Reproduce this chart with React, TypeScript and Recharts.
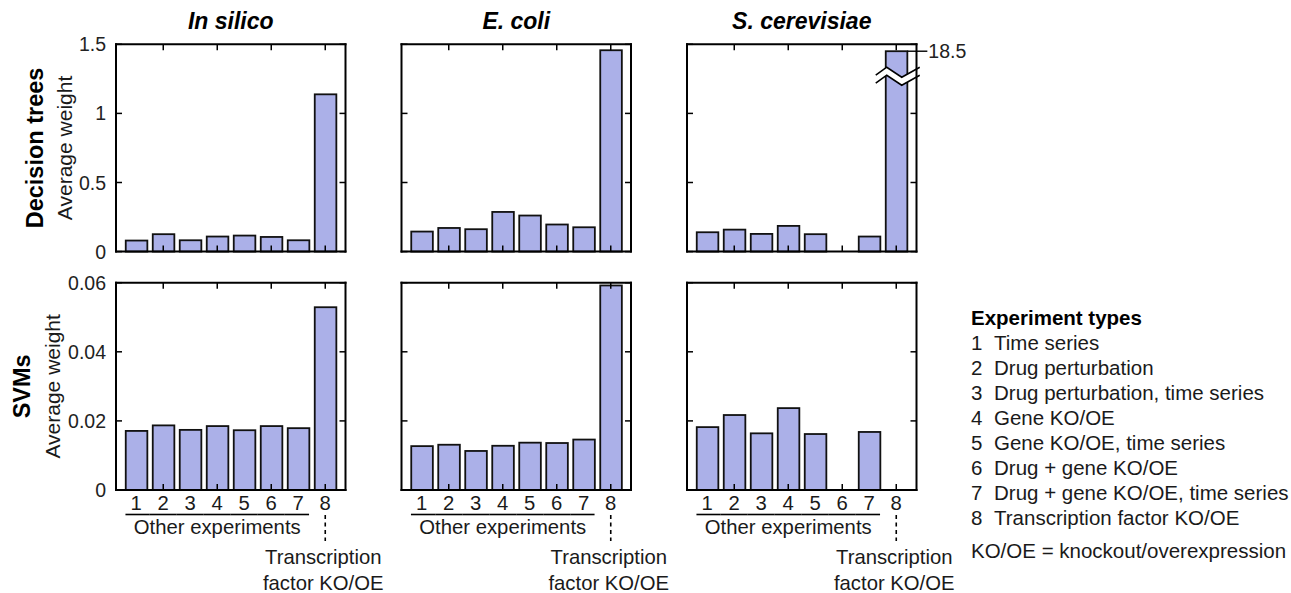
import React from 'react';
import { BarChart, Bar, XAxis, YAxis, ReferenceLine } from 'recharts';

// ---------------- data ----------------
const CATEGORIES = [1, 2, 3, 4, 5, 6, 7, 8];
const X_DOMAIN: [number, number] = [0.25, 8.75];
const X_FRAME_TICKS = [2, 4, 6, 8];

const ORGANISMS = ['In silico', 'E. coli', 'S. cerevisiae'];
const METHODS = ['Decision trees', 'SVMs'];
const Y_LABEL = 'Average weight';

const dtInSilico = [0.08, 0.126, 0.082, 0.109, 0.116, 0.106, 0.082, 1.138];
const dtEColi = [0.145, 0.171, 0.162, 0.287, 0.261, 0.196, 0.176, 1.457];
const dtSCerevisiae = [0.14, 0.159, 0.128, 0.186, 0.126, null, 0.109, 18.5];

const svmInSilico = [0.0171, 0.0187, 0.0174, 0.0185, 0.0173, 0.0185, 0.0179, 0.0529];
const svmEColi = [0.0127, 0.0131, 0.0113, 0.0128, 0.0137, 0.0136, 0.0146, 0.0592];
const svmSCerevisiae = [0.0182, 0.0217, 0.0164, 0.0237, 0.0162, null, 0.0168, null];

const DT_TICKS = [0, 0.5, 1, 1.5];
const DT_TICK_LABELS = ['0', '0.5', '1', '1.5'];
const SVM_TICKS = [0, 0.02, 0.04, 0.06];
const SVM_TICK_LABELS = ['0', '0.02', '0.04', '0.06'];

// value drawn for a bar that exceeds the axis (broken bar)
const BROKEN_SHOWN = 1.45;

const OTHER_LABEL = 'Other experiments';
const TF_LABEL_1 = 'Transcription';
const TF_LABEL_2 = 'factor KO/OE';

const LEGEND_TITLE = 'Experiment types';
const EXPERIMENT_TYPES = [
  'Time series',
  'Drug perturbation',
  'Drug perturbation, time series',
  'Gene KO/OE',
  'Gene KO/OE, time series',
  'Drug + gene KO/OE',
  'Drug + gene KO/OE, time series',
  'Transcription factor KO/OE',
];
const LEGEND_NOTE = 'KO/OE = knockout/overexpression';

// ---------------- layout / style ----------------
const W = 1291;
const H = 593;
const COL_LEFT = [116, 401.5, 687];
const ROW_TOP = [44.3, 282.7];
const PLOT_W = 229.5;
const PLOT_H = 207.3;
const STEP = PLOT_W / (X_DOMAIN[1] - X_DOMAIN[0]);
const TICK_LEN = 6;

const FONT = '"Liberation Sans", Arial, Helvetica, sans-serif';
const BAR_FILL = '#abb0e8';
const BAR_STROKE = '#111';
const TEXT = '#1a1a1a';
const FRAME = { stroke: '#000', strokeWidth: 2, strokeLinecap: 'square' as const };
const ANN_FONT = 20.3;

const rows = [
  { ticks: DT_TICKS, labels: DT_TICK_LABELS, series: [dtInSilico, dtEColi, dtSCerevisiae] },
  { ticks: SVM_TICKS, labels: SVM_TICK_LABELS, series: [svmInSilico, svmEColi, svmSCerevisiae] },
];

const makeLeftTick = (ticks: number[], labels: string[], show: boolean) => (props: any) => {
  const { x, y, payload } = props;
  const i = ticks.indexOf(payload.value);
  return (
    <g>
      <line x1={x} x2={x + TICK_LEN} y1={y} y2={y} stroke="#000" strokeWidth={1.5} />
      <line x1={x + PLOT_W} x2={x + PLOT_W - TICK_LEN} y1={y} y2={y} stroke="#000" strokeWidth={1.5} />
      {show && (
        <text x={x - 10} y={y} dy="0.36em" textAnchor="end" fontSize={19.5} fill="#222" fontFamily={FONT}>
          {labels[i]}
        </text>
      )}
    </g>
  );
};

const makeBottomTick = (show: boolean) => (props: any) => {
  const { x, y, payload } = props;
  const v = payload.value as number;
  const half = STEP / 2;
  const barHalf = STEP * 0.4;
  const txt = { fontSize: ANN_FONT, fill: TEXT, fontFamily: FONT, textAnchor: 'middle' as const };
  return (
    <g>
      {X_FRAME_TICKS.includes(v) && (
        <g>
          <line x1={x} x2={x} y1={y} y2={y - TICK_LEN} stroke="#000" strokeWidth={1.5} />
          <line x1={x} x2={x} y1={y - PLOT_H} y2={y - PLOT_H + TICK_LEN} stroke="#000" strokeWidth={1.5} />
        </g>
      )}
      {show && (
        <g>
          <text x={x} y={y + 20} {...txt}>{String(v)}</text>
          {v <= 7 && (
            <line
              x1={x - (v === 1 ? barHalf : half)}
              x2={x + (v === 7 ? barHalf : half)}
              y1={y + 24.5}
              y2={y + 24.5}
              stroke="#000"
              strokeWidth={1.6}
            />
          )}
          {v === 4 && <text x={x} y={y + 44} {...txt}>{OTHER_LABEL}</text>}
          {v === 8 && (
            <g>
              <line x1={x} x2={x} y1={y + 25} y2={y + 51} stroke="#000" strokeWidth={1.6} strokeDasharray="4 3.5" />
              <text x={x - 2} y={y + 74} {...txt}>{TF_LABEL_1}</text>
              <text x={x - 2} y={y + 100} {...txt}>{TF_LABEL_2}</text>
            </g>
          )}
        </g>
      )}
    </g>
  );
};

const barShape = (props: any) => {
  const { x, y, width, height, payload } = props;
  if (!(height > 0)) return <g />;
  const up = [
    [x - 10, y + 24],
    [x + 1, y + 16],
    [x + 16, y + 26],
    [x + 34, y + 16],
  ];
  const lo = up.map(([px, py]) => [px, py + 8]);
  const poly = [...up, ...lo.slice().reverse()].map((p) => p.join(',')).join(' ');
  return (
    <g>
      <rect x={x} y={y} width={width} height={height} fill={BAR_FILL} stroke={BAR_STROKE} strokeWidth={1.8} />
      {payload.broken && (
        <g>
          <polygon points={poly} fill="#fff" stroke="none" />
          <polyline points={up.map((p) => p.join(',')).join(' ')} fill="none" stroke="#000" strokeWidth={1.6} />
          <polyline points={lo.map((p) => p.join(',')).join(' ')} fill="none" stroke="#000" strokeWidth={1.6} />
          <line x1={x + width} x2={x + width + 20} y1={y} y2={y} stroke="#000" strokeWidth={1.4} />
          <text x={x + width + 21} y={y} dy="0.36em" fontSize={19.5} fill="#222" fontFamily={FONT}>
            {String(payload.raw)}
          </text>
        </g>
      )}
    </g>
  );
};

function Panel({ row, col }: { row: number; col: number }) {
  const r = rows[row];
  const values = r.series[col];
  const yMax = r.ticks[r.ticks.length - 1];
  const data = CATEGORIES.map((c, i) => {
    const v = values[i];
    const broken = v != null && v > yMax;
    return { x: c, v: v == null ? null : broken ? BROKEN_SHOWN : v, raw: v, broken };
  });
  const left = COL_LEFT[col];
  const top = ROW_TOP[row];
  const margin = {
    left: left - 1,
    top: top,
    right: W - left - PLOT_W,
    bottom: H - top - PLOT_H - 1,
  };
  return (
    <div style={{ position: 'absolute', left: 0, top: 0, width: W, height: H }}>
      <BarChart width={W} height={H} data={data} margin={margin} barCategoryGap="10%">
        <XAxis
          xAxisId="b"
          dataKey="x"
          type="number"
          domain={X_DOMAIN}
          ticks={CATEGORIES}
          interval={0}
          height={1}
          tickSize={0}
          tickMargin={0}
          tickLine={false}
          axisLine={FRAME}
          tick={makeBottomTick(row === 1)}
        />
        <YAxis
          yAxisId="l"
          type="number"
          domain={[0, yMax]}
          ticks={r.ticks}
          interval={0}
          width={1}
          tickSize={0}
          tickMargin={0}
          tickLine={false}
          axisLine={FRAME}
          tick={makeLeftTick(r.ticks, r.labels, col === 0)}
        />
        <ReferenceLine xAxisId="b" yAxisId="l" y={yMax} stroke="#000" strokeWidth={2} strokeLinecap="square" />
        <ReferenceLine xAxisId="b" yAxisId="l" x={X_DOMAIN[1]} stroke="#000" strokeWidth={2} strokeLinecap="square" />
        <Bar
          xAxisId="b"
          yAxisId="l"
          dataKey="v"
          fill={BAR_FILL}
          stroke={BAR_STROKE}
          barSize={STEP * 0.8}
          shape={barShape}
          isAnimationActive={false}
        />
      </BarChart>
    </div>
  );
}

function Overlay() {
  const rowLabelX = [
    { method: 43, avg: 71.5 },
    { method: 30, avg: 60 },
  ];
  return (
    <svg width={W} height={H} style={{ position: 'absolute', left: 0, top: 0, pointerEvents: 'none' }}>
      {ORGANISMS.map((o, c) => (
        <text
          key={o}
          x={COL_LEFT[c] + PLOT_W / 2}
          y={29}
          textAnchor="middle"
          fontSize={23}
          fontWeight="bold"
          fontStyle="italic"
          fill="#000"
          fontFamily={FONT}
        >
          {o}
        </text>
      ))}
      {METHODS.map((m, r) => {
        const cy = ROW_TOP[r] + PLOT_H / 2;
        return (
          <g key={m}>
            <text
              transform={`translate(${rowLabelX[r].method},${cy}) rotate(-90)`}
              textAnchor="middle"
              fontSize={23.5}
              fontWeight="bold"
              fill="#000"
              fontFamily={FONT}
            >
              {m}
            </text>
            <text
              transform={`translate(${rowLabelX[r].avg},${cy}) rotate(-90)`}
              textAnchor="middle"
              fontSize={21}
              fill={TEXT}
              fontFamily={FONT}
            >
              {Y_LABEL}
            </text>
          </g>
        );
      })}
      <text x={971} y={325} fontSize={20.5} fontWeight="bold" fill="#000" fontFamily={FONT}>
        {LEGEND_TITLE}
      </text>
      {EXPERIMENT_TYPES.map((t, i) => (
        <g key={t}>
          <text x={971} y={350.3 + 25 * i} fontSize={20.5} fill={TEXT} fontFamily={FONT}>
            {String(i + 1)}
          </text>
          <text x={994} y={350.3 + 25 * i} fontSize={20.5} fill={TEXT} fontFamily={FONT}>
            {t}
          </text>
        </g>
      ))}
      <text x={971} y={558} fontSize={20.5} fill={TEXT} fontFamily={FONT}>
        {LEGEND_NOTE}
      </text>
    </svg>
  );
}

export default function App() {
  return (
    <div style={{ position: 'absolute', left: 0, top: 0, width: W, height: H, background: '#fff', overflow: 'hidden' }}>
      {[0, 1].map((r) => [0, 1, 2].map((c) => <Panel key={`${r}-${c}`} row={r} col={c} />))}
      <Overlay />
    </div>
  );
}
